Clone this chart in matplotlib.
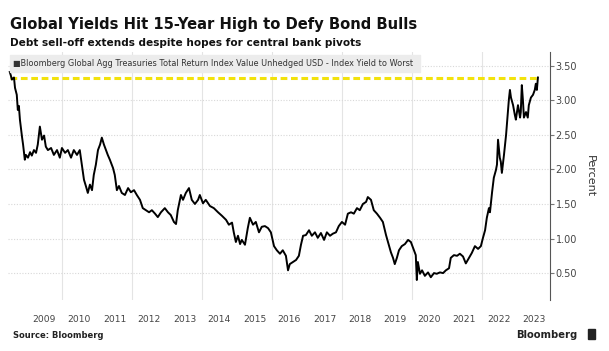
import matplotlib
matplotlib.use("Agg")
import matplotlib.pyplot as plt
from matplotlib.patches import Rectangle

# yield to worst (decimal year, percent)
years = [2008.51, 2008.54, 2008.57, 2008.63, 2008.66, 2008.71, 2008.74, 2008.77, 2008.80, 2008.86,
         2008.89, 2008.94, 2008.97, 2009.03, 2009.09, 2009.14, 2009.20, 2009.26, 2009.31, 2009.37,
         2009.43, 2009.49, 2009.54, 2009.60, 2009.69, 2009.77, 2009.86, 2009.94, 2010.00, 2010.09,
         2010.17, 2010.26, 2010.34, 2010.43, 2010.51, 2010.57, 2010.63, 2010.69, 2010.74, 2010.80,
         2010.86, 2010.91, 2010.97, 2011.03, 2011.09, 2011.14, 2011.20, 2011.26, 2011.31, 2011.37,
         2011.46, 2011.51, 2011.57, 2011.63, 2011.71, 2011.80, 2011.89, 2011.97, 2012.06, 2012.14,
         2012.23, 2012.31, 2012.40, 2012.49, 2012.57, 2012.66, 2012.74, 2012.83, 2012.94, 2013.03,
         2013.11, 2013.20, 2013.26, 2013.31, 2013.40, 2013.46, 2013.54, 2013.63, 2013.71, 2013.80,
         2013.89, 2013.94, 2014.03, 2014.11, 2014.23, 2014.34, 2014.46, 2014.57, 2014.69, 2014.77,
         2014.86, 2014.91, 2014.97, 2015.03, 2015.09, 2015.14, 2015.23, 2015.31, 2015.37, 2015.46,
         2015.54, 2015.63, 2015.71, 2015.80, 2015.89, 2015.97, 2016.06, 2016.14, 2016.23, 2016.31,
         2016.40, 2016.46, 2016.51, 2016.60, 2016.69, 2016.77, 2016.83, 2016.89, 2016.97, 2017.06,
         2017.14, 2017.23, 2017.31, 2017.40, 2017.49, 2017.57, 2017.66, 2017.74, 2017.83, 2017.91,
         2018.00, 2018.09, 2018.17, 2018.26, 2018.34, 2018.43, 2018.51, 2018.60, 2018.69, 2018.74,
         2018.83, 2018.91, 2019.00, 2019.09, 2019.17, 2019.26, 2019.34, 2019.40, 2019.46, 2019.51,
         2019.57, 2019.63, 2019.71, 2019.80, 2019.89, 2019.97, 2020.06, 2020.11, 2020.14, 2020.17,
         2020.23, 2020.29, 2020.37, 2020.46, 2020.54, 2020.63, 2020.71, 2020.80, 2020.89, 2020.97,
         2021.06, 2021.11, 2021.20, 2021.29, 2021.37, 2021.46, 2021.54, 2021.63, 2021.71, 2021.80,
         2021.89, 2021.97, 2022.03, 2022.09, 2022.14, 2022.20, 2022.23, 2022.29, 2022.34, 2022.40,
         2022.43, 2022.46, 2022.49, 2022.51, 2022.54, 2022.57, 2022.63, 2022.69, 2022.74, 2022.77,
         2022.80, 2022.83, 2022.89, 2022.94, 2022.97, 2023.03, 2023.09, 2023.11, 2023.14, 2023.17,
         2023.20, 2023.26, 2023.31, 2023.34, 2023.40, 2023.46, 2023.51, 2023.54, 2023.57, 2023.60]
ytw = [3.41, 3.36, 3.30, 3.33, 3.18, 3.08, 2.86, 2.92, 2.72, 2.47,
       2.36, 2.14, 2.21, 2.17, 2.25, 2.20, 2.28, 2.24, 2.36, 2.62,
       2.43, 2.49, 2.33, 2.28, 2.31, 2.21, 2.28, 2.17, 2.31, 2.24,
       2.28, 2.17, 2.28, 2.21, 2.28, 2.07, 1.85, 1.75, 1.66, 1.78,
       1.70, 1.92, 2.07, 2.28, 2.36, 2.46, 2.36, 2.28, 2.21, 2.14,
       2.02, 1.92, 1.70, 1.76, 1.66, 1.63, 1.73, 1.67, 1.70, 1.63,
       1.56, 1.44, 1.41, 1.38, 1.41, 1.36, 1.31, 1.38, 1.44, 1.38,
       1.34, 1.24, 1.21, 1.41, 1.63, 1.56, 1.66, 1.73, 1.56, 1.50,
       1.56, 1.63, 1.51, 1.56, 1.47, 1.44, 1.38, 1.33, 1.27, 1.20,
       1.23, 1.09, 0.95, 1.04, 0.92, 0.98, 0.91, 1.15, 1.30, 1.20,
       1.24, 1.09, 1.17, 1.18, 1.15, 1.09, 0.89, 0.83, 0.78, 0.83,
       0.75, 0.54, 0.63, 0.66, 0.69, 0.75, 0.91, 1.04, 1.05, 1.12,
       1.04, 1.09, 1.01, 1.08, 0.98, 1.09, 1.04, 1.07, 1.09, 1.18,
       1.24, 1.20, 1.36, 1.38, 1.36, 1.44, 1.41, 1.50, 1.53, 1.60,
       1.56, 1.41, 1.36, 1.30, 1.24, 1.05, 0.91, 0.80, 0.72, 0.63,
       0.72, 0.83, 0.89, 0.92, 0.98, 0.95, 0.83, 0.76, 0.40, 0.66,
       0.49, 0.54, 0.46, 0.51, 0.44, 0.50, 0.49, 0.51, 0.50, 0.54,
       0.57, 0.72, 0.76, 0.75, 0.78, 0.74, 0.64, 0.72, 0.79, 0.89,
       0.85, 0.89, 1.01, 1.12, 1.30, 1.44, 1.38, 1.67, 1.88, 1.99,
       2.07, 2.43, 2.28, 2.17, 2.11, 1.95, 2.21, 2.50, 2.83, 3.01,
       3.15, 3.04, 2.93, 2.79, 2.72, 2.93, 2.75, 2.83, 3.22, 3.01,
       2.75, 2.83, 2.75, 2.93, 3.04, 3.08, 3.15, 3.24, 3.15, 3.33]
high_level = 3.32
year_labels = [str(y) for y in range(2009, 2024)]
ytick_vals = [0.5, 1.0, 1.5, 2.0, 2.5, 3.0, 3.5]

fig = plt.figure(figsize=(6.09, 3.51), dpi=100)
ax = fig.add_axes([0.013, 0.145, 0.890, 0.707])

ax.plot(years, ytw, color="black", lw=1.4, zorder=3)
ax.plot([years[0], years[-1]], [high_level, high_level], color="#f2e20c",
        lw=2.2, ls=(0, (2.2, 1.2)), zorder=2)

ax.set_xlim(2008.457, 2023.943)
ax.set_ylim(0.109, 3.70)

# labels in the middle of each year, grid on even Januaries
ax.set_xticks([y + 0.5 for y in range(2009, 2024)])
ax.set_xticklabels(year_labels)
ax.set_xticks(list(range(2010, 2024, 2)), minor=True)
ax.tick_params(axis="x", which="both", length=0, labelsize=6.6, colors="#444444", pad=11)
ax.grid(axis="x", which="minor", color="#e4e4e4", lw=0.8)

ax.yaxis.tick_right()
ax.yaxis.set_label_position("right")
ax.set_yticks(ytick_vals)
ax.set_yticklabels(["%.2f" % v for v in ytick_vals])
ax.tick_params(axis="y", length=3, width=0.8, color="#777777", labelsize=7, labelcolor="#444444", pad=1)
ax.grid(axis="y", color="#d8d8d8", lw=0.8, ls=(0, (1, 1.5)))
ax.set_ylabel("Percent", rotation=270, fontsize=8, color="#333333", labelpad=13)

for s in ["top", "left", "bottom"]:
    ax.spines[s].set_visible(False)
ax.spines["right"].set_color("#555555")
ax.spines["right"].set_linewidth(0.8)

# legend strip
fig.patches.append(Rectangle((10 / 609, 1 - 72 / 351), 410 / 609, 17 / 351,
                             transform=fig.transFigure, color="#ececec", zorder=0))
fig.text(13 / 609, 1 - 63.5 / 351,
         "\u25a0Bloomberg Global Agg Treasuries Total Return Index Value Unhedged USD - Index Yield to Worst",
         fontsize=5.85, color="#333333", va="center")

fig.text(10 / 609, 1 - 29 / 351, "Global Yields Hit 15-Year High to Defy Bond Bulls",
         fontsize=10.6, fontweight="bold", color="#111111")
fig.text(10 / 609, 1 - 46 / 351, "Debt sell-off extends despite hopes for central bank pivots",
         fontsize=7.6, fontweight="bold", color="#111111")

fig.text(13 / 609, 1 - 338 / 351, "Source: Bloomberg", fontsize=6, fontweight="bold", color="#222222")
fig.text(577 / 609, 1 - 338 / 351, "Bloomberg", fontsize=7.2, fontweight="bold", color="#222222", ha="right")
fig.patches.append(Rectangle((588 / 609, 1 - 339 / 351), 7 / 609, 10 / 351,
                             transform=fig.transFigure, color="#222222"))

fig.savefig("out.png", dpi=100)
